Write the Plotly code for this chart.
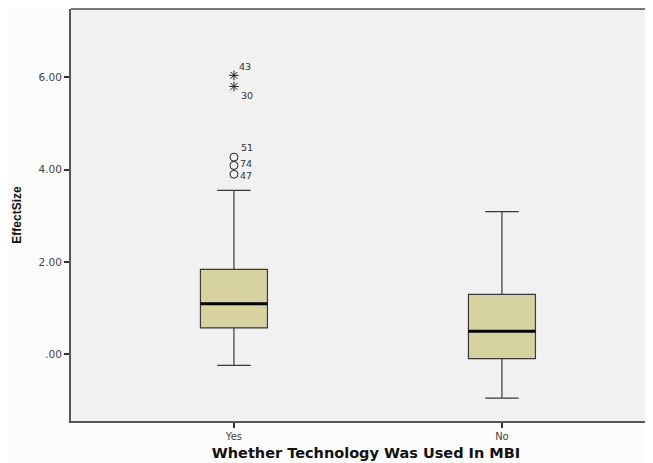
import plotly.graph_objects as go

categories = ["Yes", "No"]
q1 = [0.575, -0.09]
median = [1.094, 0.50]
q3 = [1.84, 1.30]
lower_whisker = [-0.24, -0.945]
upper_whisker = [3.55, 3.09]

outlier_group = [0, 0, 0, 0, 0]
outlier_values = [6.04, 5.80, 4.27, 4.09, 3.90]
outlier_ids = ["43", "30", "51", "74", "47"]
outlier_extreme = [True, True, False, False, False]

y_ticks = [0, 2, 4, 6]
y_ticktext = [".00", "2.00", "4.00", "6.00"]

# label placement (style, pixels)
label_xshift = [3, 5, 5, 4, 4]
label_yshift = [9, -9, 9.5, 2, -1.5]

BOX_W = 0.25
FILL = "#D6D39F"
EDGE = "#3a3a3a"
FONT = "DejaVu Sans"

fig = go.Figure()
for i, c in enumerate(categories):
    fig.add_trace(go.Box(
        x=[i], q1=[q1[i]], median=[median[i]], q3=[q3[i]],
        lowerfence=[lower_whisker[i]], upperfence=[upper_whisker[i]],
        width=BOX_W, whiskerwidth=0.5, boxpoints=False,
        fillcolor=FILL, line=dict(color=EDGE, width=1.2),
        name=c, showlegend=False, hoverinfo="skip"))
    fig.add_trace(go.Scatter(
        x=[i - BOX_W / 2, i + BOX_W / 2], y=[median[i], median[i]],
        mode="lines", line=dict(color="black", width=3),
        showlegend=False, hoverinfo="skip"))

for ext in (True, False):
    idx = [k for k in range(len(outlier_values)) if outlier_extreme[k] == ext]
    fig.add_trace(go.Scatter(
        x=[outlier_group[k] for k in idx],
        y=[outlier_values[k] for k in idx],
        mode="markers",
        marker=dict(symbol="asterisk-open" if ext else "circle-open",
                    size=8, color="#222", line=dict(color="#222", width=1)),
        showlegend=False, hoverinfo="skip"))

for k in range(len(outlier_values)):
    fig.add_annotation(x=outlier_group[k], y=outlier_values[k], text=outlier_ids[k],
                       showarrow=False, xanchor="left", yanchor="middle",
                       xshift=label_xshift[k], yshift=label_yshift[k],
                       font=dict(family=FONT, size=9.5, color="#333"))

x_min = -0.608
x_max = x_min + 590 / 268.0
y_min = (354.3 - 421) / 46.25
y_max = (354.3 - 8.5) / 46.25

fig.add_shape(type="line", xref="paper", yref="paper", x0=0, x1=1, y0=1, y1=1,
              line=dict(color="#777", width=2))

fig.update_layout(
    width=653, height=463,
    margin=dict(l=63, r=0, t=0.5, b=50),
    paper_bgcolor="#FCFCFC", plot_bgcolor="#F1F1F1",
    font=dict(family=FONT, color="#222"),
    xaxis=dict(range=[x_min, x_max], tickvals=[0, 1], ticktext=categories,
               showgrid=False, zeroline=False, showline=True, linecolor="#555", linewidth=2,
               ticks="outside", ticklen=5, tickcolor="#333", tickwidth=1.5,
               tickfont=dict(family=FONT, size=10, color="#444"),
               title=dict(text="<b>Whether Technology Was Used In MBI</b>",
                          font=dict(family=FONT, size=14.5, color="#111"), standoff=7)),
    yaxis=dict(range=[y_min, y_max], tickvals=y_ticks, ticktext=y_ticktext,
               showgrid=False, zeroline=False, showline=True, linecolor="#555", linewidth=2,
               ticks="outside", ticklen=5, tickcolor="#333", tickwidth=1.5,
               tickfont=dict(family=FONT, size=10.5, color="#444"),
               title=dict(text="<b>EffectSize</b>",
                          font=dict(family="Liberation Sans", size=12, color="#111"), standoff=14)),
)

fig.write_html("out.html")
